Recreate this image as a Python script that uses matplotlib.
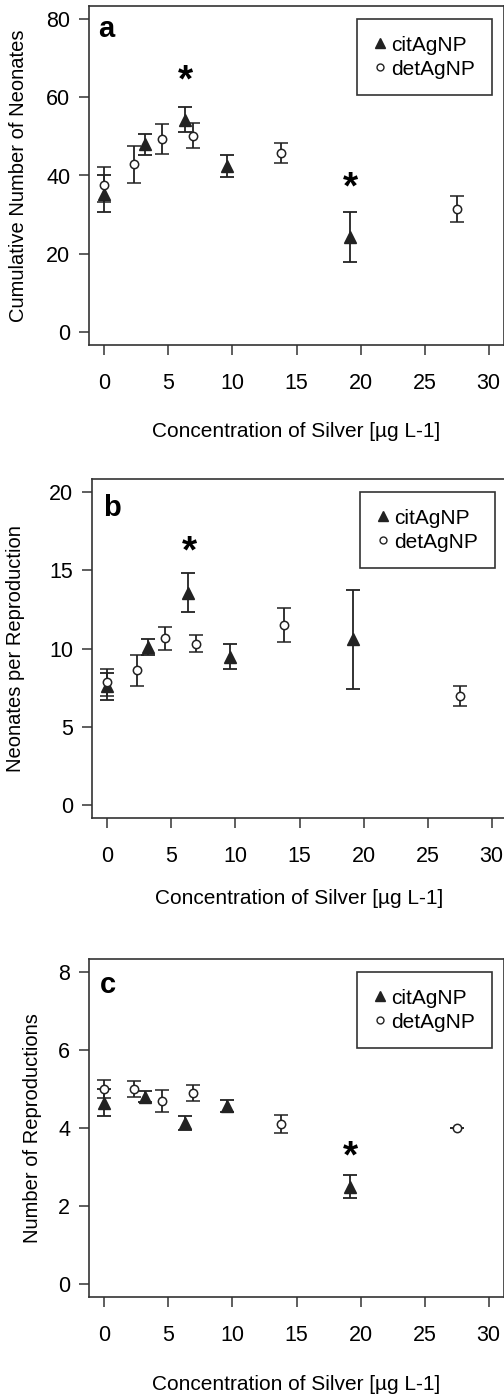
import matplotlib
matplotlib.use("Agg")
import matplotlib.pyplot as plt
from matplotlib.lines import Line2D

plt.rcParams["font.family"] = ["Liberation Sans", "DejaVu Sans"]

# concentrations [ug/L]
cit_x = [0.0, 3.2, 6.3, 9.6, 19.2]
det_x = [0.0, 2.3, 4.5, 6.9, 13.8, 27.5]

# a: cumulative number of neonates
cum_cit = [35.4, 48.0, 54.2, 42.5, 24.3]
cum_cit_se = [4.8, 2.7, 3.2, 2.8, 6.4]
cum_det = [37.7, 42.9, 49.4, 50.1, 45.7, 31.4]
cum_det_se = [4.45, 4.7, 3.8, 3.2, 2.6, 3.3]

# b: neonates per reproduction
npr_cit = [7.6, 10.1, 13.55, 9.47, 10.6]
npr_cit_se = [0.87, 0.5, 1.25, 0.8, 3.15]
npr_det = [7.85, 8.6, 10.65, 10.3, 11.5, 6.95]
npr_det_se = [0.85, 0.96, 0.75, 0.53, 1.07, 0.63]

# c: number of reproductions
rep_cit = [4.65, 4.8, 4.12, 4.56, 2.5]
rep_cit_se = [0.35, 0.14, 0.18, 0.16, 0.29]
rep_det = [5.0, 5.0, 4.68, 4.9, 4.1, 4.0]
rep_det_se = [0.23, 0.21, 0.28, 0.21, 0.24, 0.01]

panels = [
    dict(label="a", ylabel="Cumulative Number of Neonates", ymax=80, yticks=[0, 20, 40, 60, 80],
         cit=cum_cit, cit_se=cum_cit_se, det=cum_det, det_se=cum_det_se,
         stars=[(6.3, 64.0), (19.2, 36.7)],
         pos=[89, 6, 415, 339], ylab_x=19, lab_xy=(0.022, 0.908), xlab_off=87),
    dict(label="b", ylabel="Neonates per Reproduction", ymax=20, yticks=[0, 5, 10, 15, 20],
         cit=npr_cit, cit_se=npr_cit_se, det=npr_det, det_se=npr_det_se,
         stars=[(6.4, 16.1)],
         pos=[92, 479, 415, 339], ylab_x=16, lab_xy=(0.026, 0.891), xlab_off=80),
    dict(label="c", ylabel="Number of Reproductions", ymax=8, yticks=[0, 2, 4, 6, 8],
         cit=rep_cit, cit_se=rep_cit_se, det=rep_det, det_se=rep_det_se,
         stars=[(19.2, 3.25)],
         pos=[89, 959, 415, 338], ylab_x=33, lab_xy=(0.026, 0.898), xlab_off=88),
]

W, H = 504, 1400
fig = plt.figure(figsize=(W / 100, H / 100), dpi=100)
dark = "#222222"

handles = [
    Line2D([], [], marker="^", ls="none", ms=7, color=dark, label="citAgNP"),
    Line2D([], [], marker="o", ls="none", ms=5, mfc="white", mec=dark, mew=1.0, label="detAgNP"),
]

for p in panels:
    l, t, w, h = p["pos"]
    ax = fig.add_axes([l / W, 1 - (t + h) / H, w / W, h / H])
    ax.errorbar(cit_x, p["cit"], yerr=p["cit_se"], fmt="^", ms=8, color=dark,
                ecolor=dark, elinewidth=1.3, capsize=5, capthick=1.3)
    ax.errorbar(det_x, p["det"], yerr=p["det_se"], fmt="o", ms=6, mfc="white", mec=dark,
                mew=1.1, ecolor=dark, elinewidth=1.3, capsize=5, capthick=1.3)
    for sx, sy in p["stars"]:
        ax.text(sx, sy, "*", fontsize=28, fontweight="bold", ha="center", va="center", color="black")
    ax.set_xlim(-1.2, 31.2)
    pad = p["ymax"] * 0.04
    ax.set_ylim(-pad, p["ymax"] + pad)
    ax.set_xticks([0, 5, 10, 15, 20, 25, 30])
    ax.set_yticks(p["yticks"])
    ax.tick_params(labelsize=15.5, length=7.5, width=1.1, color="#333333")
    ax.tick_params(axis="x", pad=13)
    ax.tick_params(axis="y", pad=6)
    for s in ax.spines.values():
        s.set_linewidth(1.2)
        s.set_color("#333333")
    ax.text(p["lab_xy"][0], p["lab_xy"][1], p["label"], transform=ax.transAxes, fontsize=21,
            fontweight="bold", va="baseline", ha="left")
    leg = ax.legend(handles=handles, loc="upper right", bbox_to_anchor=(0.971, 0.962),
                    borderaxespad=0, fontsize=15, fancybox=False, framealpha=1,
                    edgecolor="#333333", handletextpad=0.25, handlelength=0.6,
                    borderpad=0.8, labelspacing=0.25)
    leg.get_frame().set_linewidth(1.2)
    # R-style labels placed below / left of the box
    fig.text((l + 207) / W, 1 - (t + h + p["xlab_off"]) / H, "Concentration of Silver [\u00b5g L-1]",
             fontsize=15, ha="center", va="center")
    fig.text(p["ylab_x"] / W, 1 - (t + h / 2) / H, p["ylabel"], rotation=90,
             fontsize=14.5, ha="center", va="center")

fig.savefig("out.png", dpi=100)
